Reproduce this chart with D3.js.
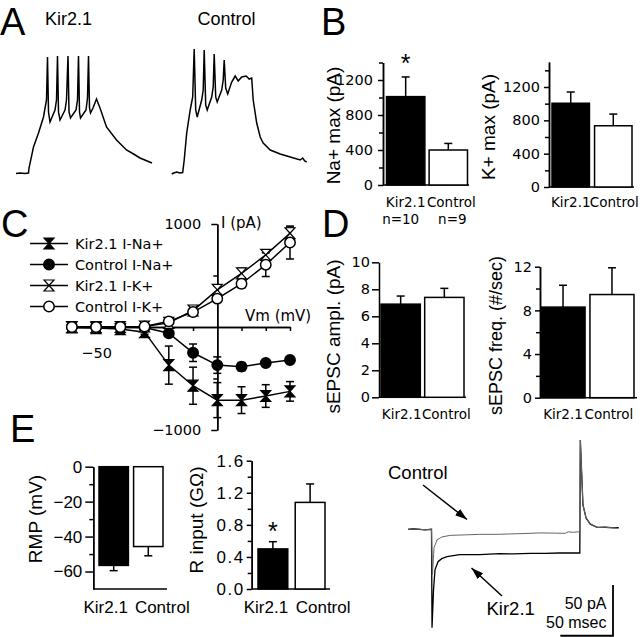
<!DOCTYPE html>
<meta charset="utf-8">
<style>
body { margin: 0; background: #fff; }
svg { display: block; font-family: "Liberation Sans", Arial, sans-serif; }
.axis path, .axis line { stroke: #000; stroke-width: 1.5px; }
.axis text { fill: #000; }
.gen text { font-family: "DejaVu Sans", sans-serif; font-size: 14.5px; }
.hel text { font-family: "Liberation Sans", Arial, sans-serif; font-size: 17px; }
</style>
<svg width="640" height="637"></svg>
<script src="https://d3js.org/d3.v7.min.js"></script>
<script>

var groups = ["Kir2.1", "Control"];

// A: current clamp traces, [ms, mV]
var apKir = [[0,-70.5],[8,-70],[18,-70.5],[25,-70],[26,-65],[35,-44],[45,-30],[55,-14],[61,3],[63,46],[65,-9],[68,-19],
  [78,-7],[81,3],[83,47],[85,-9],[88,-17],[98,-7],[101,3],[104,47],[106,-9],[109,-15],[120,-7],[123,3],[125,47],[127,-9],
  [129,-15],[140,-7],[143,5],[145,47],[147,-5],[149,-10],[154,-5],[161,4],[168,-5],[181,-24],[201,-37],[221,-47],
  [235,-51],[248,-55],[260,-57.5],[272,-60]];
var apCtl = [[0,-71],[4,-70],[10,-69],[16,-70],[22,-69.5],[25,-57],[30,-30],[37,-7],[42,6],[45,54],[48,-7],[51,-14],
  [60,3],[63,13],[65,53],[68,-2],[71,-7],[80,6],[83,16],[85,49],[88,6],[91,1],[100,13],[103,23],[105,43],[108,15],
  [112,9],[120,21],[127,27],[133,22],[140,26],[149,27],[155,24],[160,25],[163,3],[170,-20],[177,-34],[183,-40],
  [197,-47],[217,-51],[237,-54],[257,-57],[262,-55],[266,-58],[270,-59]];

// B
var naMax = [1010, 400], naSem = [225, 75];
var kMax = [1005, 735], kSem = [135, 140];
var nCells = ["n=10", "n=9"];

// C: I-V curves
var vm = [-60, -50, -40, -30, -20, -10, 0, 10, 20, 30];
var kirNa = [-5, -10, -20, -50, -370, -570, -710, -710, -670, -625];
var kirNaSem = [10, 10, 15, 20, 185, 180, 170, 130, 110, 95];
var ctlNa = [0, 0, 0, -5, -60, -250, -370, -385, -350, -320];
var ctlNaSem = [5, 5, 5, 10, 20, 85, 80, 40, 25, 20];
var kirK = [0, 0, 0, 5, 40, 160, 360, 520, 700, 910];
var kirKSem = [0, 0, 0, 0, 10, 20, 40, 50, 50, 60];
var ctlK = [0, 0, 0, 5, 55, 145, 275, 420, 605, 820];
var ctlKSem = [0, 0, 0, 0, 10, 20, 30, 40, 115, 160];

// D
var ampl = [6.9, 7.4], amplSem = [0.6, 0.67];
var freq = [8.3, 9.45], freqSem = [2.0, 2.45];

// E
var rmp = [-56.5, -45.7], rmpSem = [3.0, 5.3];
var rin = [0.5, 1.08], rinSem = [0.09, 0.23];
// voltage clamp traces, [ms, pA]
var vcCtl = [[0,0],[5,0.5],[11,0],[16,-0.5],[22.3,0],[23.2,-45],[24.7,-18],[27.5,-10.5],[32,-7.6],[40,-6],[55,-5.5],
  [68,-5],[85,-5],[97,-4.6],[110,-4.2],[125,-3.6],[140,-3.8],[149,-4],[152,-2.5],[156,-3],[163,-2.4],
  [163.5,88],[166,24],[169,11],[173,5],[179.5,1.8],[187,2],[196,1.3]];
var vcKir = [[0,0],[5,0.5],[11,0],[16,-0.5],[22.3,0],[22.8,-97],[24.2,-60],[25.6,-40],[28.5,-32],[32,-29],[37,-27],
  [49,-25],[68,-25],[87,-24],[100,-24.3],[116,-23.7],[130,-23.8],[144,-23.4],[163,-23.4],
  [163.5,88],[166,24],[169,11],[173,5],[179.5,1.8],[187,2],[196,1.3],[200,1.5]];

var svg = d3.select("svg");
svg.append("rect").attr("width", 640).attr("height", 637).attr("fill", "#fff");

function letter(t, x, y) {
  svg.append("text").attr("x", x).attr("y", y).attr("font-size", 38).text(t);
}
letter("A", 0, 35); letter("B", 321, 35); letter("C", 1, 237); letter("D", 322, 237); letter("E", 10, 442);

// ---- A
var apY = d3.scaleLinear().domain([-70, 47]).range([173, 56]);
function apTrace(data, x0, title, tx) {
  var x = d3.scaleLinear().domain([0, 272]).range([x0, x0 + 136]);
  svg.append("path")
      .attr("d", d3.line().x(function(d) { return x(d[0]); }).y(function(d) { return apY(d[1]); })(data))
      .attr("fill", "none").attr("stroke", "#000").attr("stroke-width", 1.5);
  svg.append("text").attr("x", tx).attr("y", 24.5).attr("font-size", 18).text(title);
}
apTrace(apKir, 16, "Kir2.1", 45);
apTrace(apCtl, 171.7, "Control", 197.5);

// ---- bar panels
function barPanel(o) {
  var y = d3.scaleLinear().domain(o.domain).range(o.yRange);
  var x = d3.scaleBand().domain(groups).range(o.xRange).paddingInner(o.pad);
  var g = svg.append("g");
  if (o.minor.length)
    g.append("g").attr("class", "axis")
        .attr("transform", "translate(" + o.ax + ",0)")
        .call(d3.axisLeft(y).tickValues(o.minor).tickSize(4).tickSizeOuter(0).tickFormat(""));
  g.append("g").attr("class", "axis " + o.cls)
      .attr("transform", "translate(" + o.ax + ",0)")
      .call(d3.axisLeft(y).tickValues(o.major).tickSize(o.tick).tickPadding(o.tpad).tickSizeOuter(0).tickFormat(o.fmt))
      .selectAll("text").attr("letter-spacing", o.ls || 0);
  g.append("line")
      .attr("x1", o.ax).attr("x2", o.xEnd)
      .attr("y1", y(o.domain[0])).attr("y2", y(o.domain[0]))
      .attr("stroke", "#000").attr("stroke-width", 1.5);

  var bars = o.values.map(function(v, i) { return {k: groups[i], v: v, e: o.sem[i], i: i}; });
  g.selectAll(".bar").data(bars).enter().append("rect")
      .attr("x", function(d) { return x(d.k); })
      .attr("width", x.bandwidth())
      .attr("y", function(d) { return Math.min(y(0), y(d.v)); })
      .attr("height", function(d) { return Math.abs(y(d.v) - y(0)); })
      .attr("fill", function(d) { return d.i ? "#fff" : "#000"; })
      .attr("stroke", "#000").attr("stroke-width", 1.5);

  var eb = g.selectAll(".eb").data(bars).enter().append("g")
      .attr("transform", function(d) { return "translate(" + (x(d.k) + x.bandwidth() / 2) + ",0)"; });
  function tip(d) { return y(d.v + (d.v < 0 ? -d.e : d.e)); }
  eb.append("line").attr("y1", function(d) { return y(d.v); }).attr("y2", tip)
      .attr("stroke", "#000").attr("stroke-width", 1.5);
  eb.append("line").attr("x1", -4).attr("x2", 4).attr("y1", tip).attr("y2", tip)
      .attr("stroke", "#000").attr("stroke-width", 1.5);

  g.selectAll(".lab").data(bars).enter().append("text")
      .attr("x", function(d) { return x(d.k) + x.bandwidth() / 2 + o.labDx[d.i]; })
      .attr("y", o.labY)
      .attr("text-anchor", "middle")
      .attr("font-family", o.labFont)
      .attr("font-size", o.labSize)
      .text(function(d) { return d.k; });

  if (o.n)
    g.selectAll(".n").data(bars).enter().append("text")
        .attr("x", function(d) { return x(d.k) + x.bandwidth() / 2 + o.nDx[d.i]; })
        .attr("y", o.labY + 17)
        .attr("text-anchor", "middle")
        .attr("font-family", o.labFont)
        .attr("font-size", o.labSize)
        .text(function(d) { return o.n[d.i]; });

  if (o.star != null) {
    var d = bars[o.star];
    g.append("text")
        .attr("x", x(d.k) + x.bandwidth() / 2)
        .attr("y", tip(d) - o.starGap)
        .attr("text-anchor", "middle").attr("font-size", 25)
        .text("*");
  }

  g.append("text")
      .attr("transform", "translate(" + o.tx + "," + o.ty + ") rotate(-90)")
      .attr("text-anchor", "middle")
      .attr("font-size", o.tsize)
      .text(o.title);
}

var gen = "'DejaVu Sans', sans-serif";
var hel = "'Liberation Sans', Arial, sans-serif";

barPanel({values: naMax, sem: naSem, domain: [0, 1400], yRange: [185, 62.5], xRange: [386.5, 467.5], pad: 0.1,
  ax: 383, xEnd: 469, major: [0, 400, 800, 1200], minor: [200, 600, 1000, 1400], tick: 5, tpad: 5,
  fmt: d3.format("d"), cls: "gen", labY: 207, labDx: [0, 3], labFont: gen, labSize: 13.5,
  n: nCells, nDx: [-5, 4], star: 0, starGap: 5,
  title: "Na+ max (pA)", tx: 340, ty: 125.5, tsize: 19});

barPanel({values: kMax, sem: kSem, domain: [0, 1500], yRange: [187, 62], xRange: [552, 632], pad: 0.12,
  ax: 549, xEnd: 634, major: [0, 400, 800, 1200], minor: [200, 600, 1000, 1400], tick: 5, tpad: 4,
  fmt: d3.format("d"), cls: "gen", labY: 207, labDx: [0, 1], labFont: gen, labSize: 13.5,
  title: "K+ max (pA)", tx: 495, ty: 127, tsize: 19});

barPanel({values: ampl, sem: amplSem, domain: [0, 10], yRange: [397.3, 262.3], xRange: [381, 464], pad: 0.1,
  ax: 379, xEnd: 466, major: [0, 2, 4, 6, 8, 10], minor: [], tick: 7, tpad: 2,
  fmt: d3.format("d"), cls: "gen", labY: 418.5, labDx: [1, 2], labFont: gen, labSize: 13.5,
  title: "sEPSC ampl. (pA)", tx: 340, ty: 336.5, tsize: 19});

barPanel({values: freq, sem: freqSem, domain: [0, 12], yRange: [397.7, 266.7], xRange: [541, 634], pad: 0.1,
  ax: 540, xEnd: 637, major: [0, 4, 8, 12], minor: [2, 6, 10], tick: 5, tpad: 3,
  fmt: d3.format("d"), cls: "gen", labY: 418.5, labDx: [0, -3], labFont: gen, labSize: 13.5,
  title: "sEPSC freq. (#/sec)", tx: 502, ty: 335.5, tsize: 18});

barPanel({values: rmp, sem: rmpSem, domain: [-70, 0], yRange: [589, 466.7], xRange: [99, 163], pad: 0.15,
  ax: 93.3, xEnd: 167, major: [0, -20, -40, -60], minor: [-10, -30, -50], tick: 8, tpad: 3,
  fmt: d3.format("d"), cls: "hel", labY: 613, labDx: [-8, 14], labFont: hel, labSize: 17,
  title: "RMP (mV)", tx: 41.7, ty: 519, tsize: 19});

barPanel({values: rin, sem: rinSem, domain: [0, 1.6], yRange: [589, 460.7], xRange: [258, 325], pad: 0.2,
  ax: 251.7, xEnd: 330, major: [0, 0.4, 0.8, 1.2, 1.6], minor: [0.2, 0.6, 1.0, 1.4], tick: 5, tpad: 2,
  fmt: d3.format(".1f"), cls: "hel", ls: 1.5, labY: 613, labDx: [-7, 13], labFont: hel, labSize: 17,
  star: 0, starGap: 2,
  title: "R input (G\u03A9)", tx: 203, ty: 520, tsize: 19});

// ---- C: I-V
var cx = d3.scaleLinear().domain([-62, 30]).range([67, 290]);
var cy = d3.scaleLinear().domain([-1000, 1000]).range([430, 224]);
var c = svg.append("g");

c.append("g").attr("class", "axis")
    .attr("transform", "translate(0," + cy(0) + ")")
    .call(d3.axisBottom(cx).tickValues([-60, -40, -30, -20, -10, 10, 20, 30]).tickSize(4).tickSizeOuter(0).tickFormat(""));
c.append("g").attr("class", "axis gen")
    .attr("transform", "translate(0," + cy(0) + ")")
    .call(d3.axisBottom(cx).tickValues([-50]).tickSize(6).tickPadding(15).tickSizeOuter(0).tickFormat(d3.format("d")));
c.append("g").attr("class", "axis")
    .attr("transform", "translate(" + cx(0) + ",0)")
    .call(d3.axisLeft(cy).tickValues([-500, 500]).tickSize(4).tickSizeOuter(0).tickFormat(""));
c.append("g").attr("class", "axis gen")
    .attr("transform", "translate(" + cx(0) + ",0)")
    .call(d3.axisLeft(cy).tickValues([-1000, 1000]).tickSize(6).tickPadding(10).tickSizeOuter(0).tickFormat(d3.format("d")));

c.append("text").attr("x", 245).attr("y", 321).attr("font-family", gen).attr("font-size", 15).text("Vm (mV)");
c.append("text").attr("x", 221).attr("y", 228).attr("font-family", gen).attr("font-size", 15).text("I (pA)");

var ivSeries = [
  {name: "Kir2.1 I-Na+", v: kirNa, e: kirNaSem, shape: "hour", fill: "#000"},
  {name: "Control I-Na+", v: ctlNa, e: ctlNaSem, shape: "circle", fill: "#000"},
  {name: "Kir2.1 I-K+", v: kirK, e: kirKSem, shape: "hour", fill: "#fff"},
  {name: "Control I-K+", v: ctlK, e: ctlKSem, shape: "circle", fill: "#fff"}
];

function drawMarker(sel, s) {
  if (s.shape == "circle")
    sel.append("circle").attr("r", 5.2).attr("fill", s.fill).attr("stroke", "#000").attr("stroke-width", 1.5);
  else
    sel.append("path").attr("d", "M-5,-5.5L5,-5.5L-5,5.5L5,5.5Z")
        .attr("fill", s.fill).attr("stroke", "#000").attr("stroke-width", 1.2).attr("stroke-linejoin", "miter");
}

var ivLine = d3.line().x(function(d) { return cx(d[0]); }).y(function(d) { return cy(d[1]); });
ivSeries.forEach(function(s) {
  c.append("path").attr("d", ivLine(vm.map(function(v, i) { return [v, s.v[i]]; })))
      .attr("fill", "none").attr("stroke", "#000").attr("stroke-width", 1.5);
});
ivSeries.forEach(function(s) {
  vm.forEach(function(v, i) {
    if (!s.e[i]) return;
    var xx = cx(v), y1 = cy(s.v[i] - s.e[i]), y2 = cy(s.v[i] + s.e[i]);
    c.append("line").attr("x1", xx).attr("x2", xx).attr("y1", y1).attr("y2", y2).attr("stroke", "#000").attr("stroke-width", 1.5);
    [y1, y2].forEach(function(yy) {
      c.append("line").attr("x1", xx - 4).attr("x2", xx + 4).attr("y1", yy).attr("y2", yy).attr("stroke", "#000").attr("stroke-width", 1.5);
    });
  });
});
ivSeries.forEach(function(s) {
  vm.forEach(function(v, i) {
    drawMarker(c.append("g").attr("transform", "translate(" + cx(v) + "," + cy(s.v[i]) + ")"), s);
  });
});

// legend
var leg = c.selectAll(".leg").data(ivSeries).enter().append("g")
    .attr("transform", function(d, i) { return "translate(30," + (243.5 + i * 21) + ")"; });
leg.append("line").attr("x1", 0).attr("x2", 38).attr("stroke", "#000").attr("stroke-width", 1.5);
leg.each(function(s) { drawMarker(d3.select(this).append("g").attr("transform", "translate(19,0)"), s); });
leg.append("text").attr("x", 45).attr("y", 5.5).attr("font-family", gen).attr("font-size", 14.5)
    .text(function(d) { return d.name; });

// ---- E: voltage clamp traces
var vx = d3.scaleLinear().domain([0, 200]).range([408, 618.8]);
var vy = d3.scaleLinear().domain([-100, 90]).range([630.7, 438]);
var vline = d3.line().x(function(d) { return vx(d[0]); }).y(function(d) { return vy(d[1]); });
svg.append("path").attr("d", vline(vcKir)).attr("fill", "none").attr("stroke", "#000").attr("stroke-width", 1.3);
svg.append("path").attr("d", vline(vcCtl)).attr("fill", "none").attr("stroke", "#666").attr("stroke-width", 1);

svg.append("defs").append("marker")
    .attr("id", "ah").attr("markerUnits", "userSpaceOnUse")
    .attr("markerWidth", 12).attr("markerHeight", 8).attr("refX", 12).attr("refY", 4).attr("orient", "auto")
  .append("path").attr("d", "M0,0L12,4L0,8Z").attr("fill", "#000");

svg.append("line").attr("x1", 423).attr("y1", 485).attr("x2", 467).attr("y2", 519.5)
    .attr("stroke", "#000").attr("stroke-width", 1.5).attr("marker-end", "url(#ah)");
svg.append("line").attr("x1", 502).attr("y1", 596).attr("x2", 471.5).attr("y2", 568)
    .attr("stroke", "#000").attr("stroke-width", 1.5).attr("marker-end", "url(#ah)");
svg.append("text").attr("x", 388).attr("y", 479).attr("font-size", 18.5).text("Control");
svg.append("text").attr("x", 486.5).attr("y", 615).attr("font-size", 18.5).text("Kir2.1");

// scale bar: 50 pA, 50 msec
svg.append("path")
    .attr("d", "M" + vx(144.5) + "," + vy(-105) + "H" + vx(194.5) + "V" + vy(-55))
    .attr("fill", "none").attr("stroke", "#000").attr("stroke-width", 1.8);
svg.append("text").attr("x", 606.5).attr("y", 609).attr("text-anchor", "end").attr("font-size", 16).text("50 pA");
svg.append("text").attr("x", 606.5).attr("y", 627.5).attr("text-anchor", "end").attr("font-size", 16).text("50 msec");

</script>
